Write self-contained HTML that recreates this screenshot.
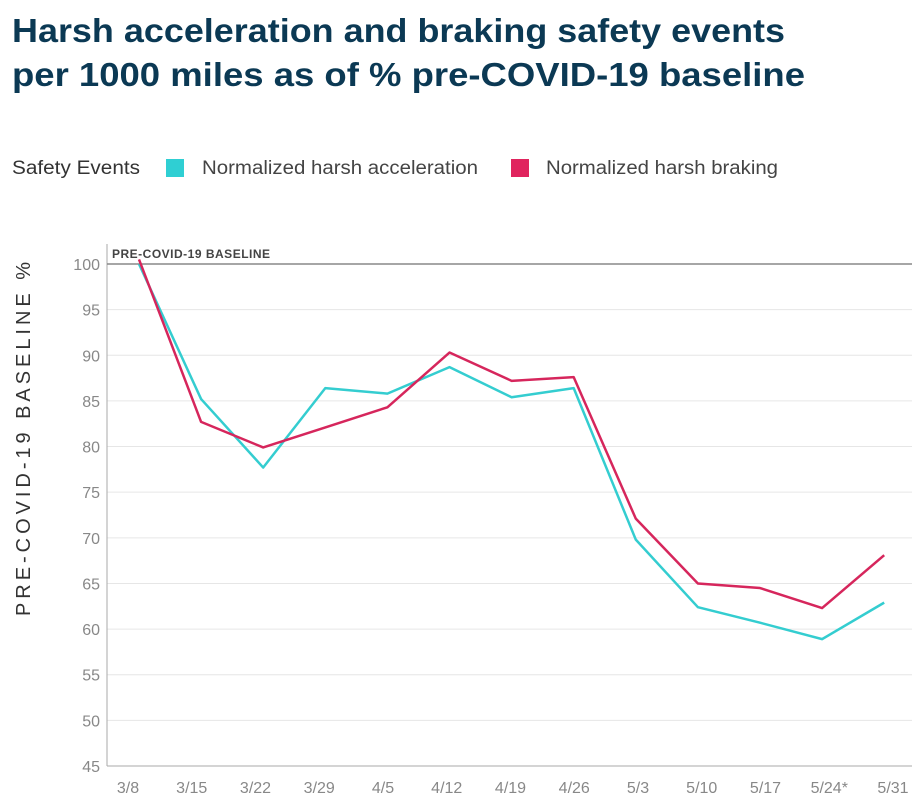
<!DOCTYPE html>
<html><head><meta charset="utf-8"><style>
body{margin:0;background:#fff;width:914px;height:808px;overflow:hidden;font-family:"Liberation Sans",sans-serif}
</style></head><body>
<svg width="914" height="808" style="position:absolute;left:0;top:0" id="chart">
<g font-size="33" font-weight="bold" fill="#0b3954">
<text x="12" y="42" textLength="773" lengthAdjust="spacingAndGlyphs">Harsh acceleration and braking safety events</text>
<text x="12" y="86" textLength="793" lengthAdjust="spacingAndGlyphs">per 1000 miles as of % pre-COVID-19 baseline</text>
</g>
<g font-size="19" fill="#333">
<text x="12" y="174" textLength="128" lengthAdjust="spacingAndGlyphs">Safety Events</text>
<rect x="166" y="159" width="18" height="18" fill="#2fcfd3"/>
<text x="202" y="174" fill="#444" textLength="276" lengthAdjust="spacingAndGlyphs">Normalized harsh acceleration</text>
<rect x="511" y="159" width="18" height="18" fill="#e0245e"/>
<text x="546" y="174" fill="#444" textLength="232" lengthAdjust="spacingAndGlyphs">Normalized harsh braking</text>
</g>
<text transform="translate(30,439) rotate(-90)" text-anchor="middle" font-size="20" fill="#333" textLength="354" lengthAdjust="spacing">PRE-COVID-19 BASELINE %</text>
<g id="grid"></g><g id="lines"></g>
</svg>
<script>
const categories=["3/8","3/15","3/22","3/29","4/5","4/12","4/19","4/26","5/3","5/10","5/17","5/24*","5/31"];
const acceleration=[100,85.2,77.7,86.4,85.8,88.7,85.4,86.4,69.8,62.4,60.7,58.9,62.9];
const braking=[100.5,82.7,79.9,82.1,84.3,90.3,87.2,87.6,72.1,65,64.5,62.3,68.1];
const yTicks=[45,50,55,60,65,70,75,80,85,90,95,100];
const NS="http://www.w3.org/2000/svg";
const y=v=>766-(v-45)*(502/55);
const x=i=>139+i*62.1;
const xl=i=>128+i*63.75;
const grid=document.getElementById('grid'),lines=document.getElementById('lines');
function mk(tag,attrs,parent){const e=document.createElementNS(NS,tag);for(const k in attrs)e.setAttribute(k,attrs[k]);parent.appendChild(e);return e;}
yTicks.forEach(t=>{
 if(t!==45&&t!==100){const l=mk('line',{x1:107,x2:912,y1:y(t),y2:y(t),stroke:'#e6e6e6','stroke-width':1},grid);
 
 }
 const tx=mk('text',{x:100,y:y(t)+6,'text-anchor':'end','font-size':16,fill:'#888'},grid);tx.textContent=t;
 
 
});
const ax=mk('line',{x1:107,x2:107,y1:244,y2:766,stroke:'#aaa','stroke-width':1},grid);


const bx=mk('line',{x1:107,x2:912,y1:766,y2:766,stroke:'#aaa','stroke-width':1},grid);


const bl=mk('line',{x1:107,x2:912,y1:y(100),y2:y(100),stroke:'#888','stroke-width':1.5},grid);


const bt=mk('text',{x:112,y:y(100)-6,'font-size':12,'font-weight':'bold',fill:'#444','letter-spacing':0.5},grid);bt.textContent='PRE-COVID-19 BASELINE';


categories.forEach((c,i)=>{const t=mk('text',{x:xl(i),y:793,'text-anchor':'middle','font-size':16,fill:'#888'},grid);t.textContent=c;
 
 });
function line(data,color,name){const p=mk('polyline',{points:data.map((v,i)=>x(i)+','+y(v)).join(' '),fill:'none',stroke:color,'stroke-width':2.5,'stroke-linejoin':'round'},lines);
 
 }
line(acceleration,'#34cdd0','line-acceleration');
line(braking,'#d6265c','line-braking');
</script>
</body></html>
